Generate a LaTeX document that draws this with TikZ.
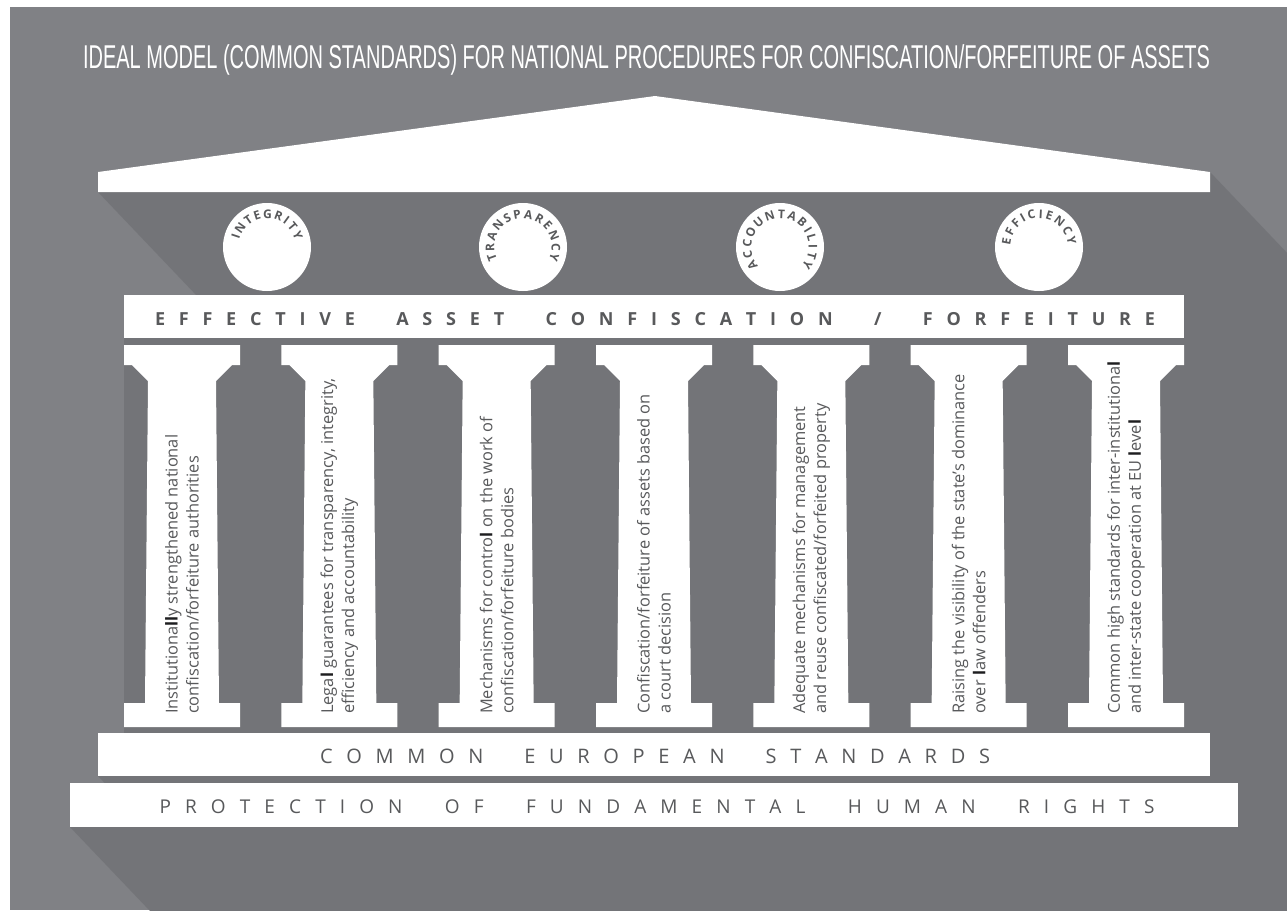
\documentclass[tikz,border=0pt]{standalone}
\usepackage{fontspec}
\setmainfont{Open Sans}
\newfontfamily\titlefont{Liberation Sans}
\usepackage{graphicx}
\usetikzlibrary{calc}
\definecolor{bglight}{RGB}{128,129,133}
\definecolor{bgshadow}{RGB}{115,116,120}
\definecolor{txtgray}{RGB}{88,89,91}
\definecolor{txtdark}{RGB}{30,30,32}
\makeatletter
\newcommand\spreadword[1]{\@tfor\sp@ch:=#1\do{\sp@ch\hskip 0pt plus 1fill}}
\makeatother
\newcommand\wordgap{\hskip 0pt plus 2fill}
\newcommand\hl[1]{{\bfseries\color{txtdark}#1}}
\newcommand\lblfont{\bfseries\fontsize{12}{13}\selectfont}
\newcommand\pillar[4]{%
  \pgfmathsetmacro\pilc{182+157.333*#1}%
  \fill[colshape] (\pilc-58,-345) -- (\pilc+58,-345) -- (\pilc+58,-365) -- (\pilc+50,-365) -- (\pilc+34,-381) -- (\pilc+37,-703) -- (\pilc+58,-703) -- (\pilc+58,-727) -- (\pilc-58,-727) -- (\pilc-58,-703) -- (\pilc-37,-703) -- (\pilc-34,-381) -- (\pilc-50,-365) -- (\pilc-58,-365) -- cycle;
  \node[coltext] (#2) at (\pilc,-714) {#3\\#4};
}
% letters of a circle label, spaced by their widths along an arc centred at the top
\newcommand\arclabel[4]{%
  \begingroup\lblfont
  \gdef\arctot{0}%
  \foreach \ch in {#4}{\pgfmathsetmacro\w{width("\ch")+#3}\xdef\arctot{\fpeval{\arctot+\w}}}%
  \xdef\arcpos{\fpeval{-\arctot/2}}%
  \foreach \ch [count=\k] in {#4}{%
    \pgfmathsetmacro\w{width("\ch")+#3}%
    \pgfmathsetmacro\ang{90-(\arcpos+\w/2)/#2*180/pi}%
    \node[lbl, rotate=\ang-90] (#1-\k) at ($(#1)+(\ang:#2)$) {\ch};
    \xdef\arcpos{\fpeval{\arcpos+\w}}%
  }%
  \endgroup}
\begin{document}
\begin{tikzpicture}[x=1pt,y=1pt,
  colshape/.style={fill=white},
  coltext/.style={rotate=90, anchor=west, align=left, inner sep=0pt, text=txtgray, font=\fontsize{16.4}{21}\selectfont},
  lbl/.style={inner sep=0pt, text=txtgray, font=\lblfont},
  pcircle/.style={circle, fill=white, minimum size=88pt, inner sep=0pt},
  bartext/.style={anchor=base, inner sep=0pt, text=txtgray}]
\useasboundingbox (0,0) rectangle (1287,-910);
\fill[white] (0,0) rectangle (1287,-910);
\fill[bglight] (10,-7) rectangle (1287,-910);
% long shadows
\begin{scope}
\clip (10,-7) rectangle (1287,-910);
\fill[bgshadow] (98,-192) -- (1098,-1242) -- (2210,-1222) -- (1210,-172) -- (655,-96) -- (98,-172) -- cycle;
\fill[bgshadow] (124,-733) -- (1124,-1783) -- (2184,-1783) -- (2184,-1345) -- (1184,-295) -- (124,-295) -- cycle;
\fill[bgshadow] (98,-776) -- (1098,-1826) -- (2210,-1826) -- (2210,-1783) -- (1210,-733) -- (98,-733) -- cycle;
\fill[bgshadow] (70,-827) -- (1070,-1877) -- (2238,-1877) -- (2238,-1833) -- (1238,-783) -- (70,-783) -- cycle;
\end{scope}
% title
\node[anchor=base, inner sep=0pt, text=white, font=\titlefont\fontsize{33}{33}\selectfont] (title) at (646.5,-68)
  {\resizebox{1127pt}{\height}{IDEAL MODEL (COMMON STANDARDS) FOR NATIONAL PROCEDURES FOR CONFISCATION/FORFEITURE OF ASSETS}};
% roof
\fill[white] (98,-192) -- (98,-172) -- (655,-96) -- (1210,-172) -- (1210,-192) -- cycle;
% value circles
\node[pcircle] (c1) at (267,-247) {};
\node[pcircle] (c2) at (523,-247) {};
\node[pcircle] (c3) at (780,-247) {};
\node[pcircle] (c4) at (1039,-247) {};
\arclabel{c1}{33}{3}{I,N,T,E,G,R,I,T,Y}
\arclabel{c2}{33}{3.5}{T,R,A,N,S,P,A,R,E,N,C,Y}
\arclabel{c3}{33}{3.5}{A,C,C,O,U,N,T,A,B,I,L,I,T,Y}
\arclabel{c4}{33}{3.5}{E,F,F,I,C,I,E,N,C,Y}
% effective bar
\fill[white] (124,-295) rectangle (1184,-338);
\node[bartext, font=\bfseries\fontsize{18}{18}\selectfont] (efftxt) at (655,-325)
  {\makebox[1000pt][s]{\spreadword{EFFECTIVE}\wordgap\spreadword{ASSET}\wordgap\spreadword{CONFISCATION}\wordgap\spreadword{/}\wordgap\spreadword{FORFEITURE}\unskip}};
% pillars
\pillar{0}{p1}{Institutiona\hl{ll}y strengthened national}{confiscation/forfeiture authorities}
\pillar{1}{p2}{Lega\hl{l} guarantees for transparency, integrity,}{efficiency and accountability}
\pillar{2}{p3}{Mechanisms for contro\hl{l} on the work of}{confiscation/forfeiture bodies}
\pillar{3}{p4}{Confiscation/forfeiture of assets based on}{a court decision}
\pillar{4}{p5}{Adequate mechanisms for management}{and reuse confiscated/forfeited property}
\pillar{5}{p6}{Raising the visibility of the state’s dominance}{over \hl{l}aw offenders}
\pillar{6}{p7}{Common high standards for inter-institutiona\hl{l}}{and inter-state cooperation at EU \hl{l}eve\hl{l}}
% base bars
\fill[white] (98,-733) rectangle (1210,-776);
\node[bartext, font=\fontsize{20}{20}\selectfont] (cestxt) at (655,-763)
  {\makebox[670pt][s]{\spreadword{COMMON}\wordgap\spreadword{EUROPEAN}\wordgap\spreadword{STANDARDS}\unskip}};
\fill[white] (70,-783) rectangle (1238,-827);
\node[bartext, font=\fontsize{19}{19}\selectfont] (prtxt) at (657,-813)
  {\makebox[995pt][s]{\spreadword{PROTECTION}\wordgap\spreadword{OF}\wordgap\spreadword{FUNDAMENTAL}\wordgap\spreadword{HUMAN}\wordgap\spreadword{RIGHTS}\unskip}};
\end{tikzpicture}
\end{document}
